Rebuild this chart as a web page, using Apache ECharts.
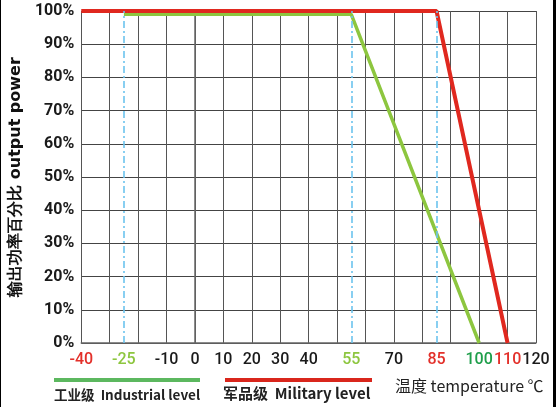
<!DOCTYPE html>
<html>
<head>
<meta charset="utf-8">
<script src="https://cdn.jsdelivr.net/npm/echarts@6/dist/echarts.min.js"></script>
<style>
  html, body { margin: 0; padding: 0; background: #fff; }
  #chart { width: 560px; height: 407px; }
</style>
</head>
<body>
<div id="chart"></div>
<script>
// x tick labels that are shown under the axis
var xLabels = [-40, -25, -10, 0, 10, 20, 30, 40, 55, 70, 85, 100, 110, 120]
// label colour keys, the rest are black
var redLabels = [-40, 85, 110]
var greenLabels = [-25, 55]
var darkGreenLabels = [100]

// derating curves: [temperature, output %]
var industrialData = [[-25, 99], [55, 99], [100, 0]]
var militaryData = [[-40, 100], [85, 100], [110, 0]]

// dashed guides
var guideX = [-25, 55, 85]

var chart = echarts.init(document.getElementById('chart'))

function labelFmt(v) {
  if (redLabels.indexOf(v) > -1) return '{r|' + v + '}'
  if (greenLabels.indexOf(v) > -1) return '{g|' + v + '}'
  if (darkGreenLabels.indexOf(v) > -1) return '{dg|' + v + '}'
  return '{k|' + v + '}'
}

var lblStyle = { fontSize: 16, fontFamily: 'Roboto', fontWeight: 500 }

chart.setOption({
  animation: false,
  grid: { left: 79, right: 24, top: 11, bottom: 64 },
  xAxis: {
    type: 'value',
    min: -40,
    max: 120,
    interval: 10,
    axisLine: { lineStyle: { color: '#666', width: 1.5 } },
    axisTick: { show: false },
    splitLine: { show: true, lineStyle: { color: '#555', width: 1 } },
    axisLabel: {
      customValues: xLabels,
      margin: 9,
      formatter: labelFmt,
      rich: {
        r: Object.assign({ color: '#e3302a' }, lblStyle),
        g: Object.assign({ color: '#8dc63f' }, lblStyle),
        dg: Object.assign({ color: '#1e9e4a' }, lblStyle),
        k: Object.assign({ color: '#1a1a1a' }, lblStyle)
      }
    }
  },
  yAxis: {
    type: 'value',
    min: 0,
    max: 100,
    interval: 10,
    name: '输出功率百分比 output power',
    nameLocation: 'middle',
    nameGap: 50,
    nameTextStyle: { fontSize: 16, fontWeight: 'bold', color: '#111', fontFamily: 'DejaVu Sans' },
    axisLine: { show: true, lineStyle: { color: '#666', width: 1.5 } },
    axisTick: { show: false },
    splitLine: { lineStyle: { color: '#444', width: 1 } },
    axisLabel: {
      formatter: '{value}%',
      fontSize: 16,
      fontWeight: 'bold',
      color: '#1a1a1a',
      fontFamily: 'Roboto',
      margin: 7
    }
  },
  series: [
    {
      type: 'line',
      data: [],
      z: 1,
      markLine: {
        symbol: 'none',
        silent: true,
        label: { show: false },
        lineStyle: { color: '#6cc4ee', width: 1.6, type: [7, 3, 2, 3] },
        data: guideX.map(function (x) {
          return [{ coord: [x, 0] }, { coord: [x, 100] }]
        })
      }
    },
    {
      name: '工业级 Industrial level',
      type: 'line',
      data: industrialData,
      symbol: 'none',
      z: 3,
      lineStyle: { color: '#8dc63f', width: 3.5 }
    },
    {
      name: '军品级 Military level',
      type: 'line',
      data: militaryData,
      symbol: 'none',
      z: 4,
      lineStyle: { color: '#e0281f', width: 4 }
    }
  ],
  graphic: [
    { type: 'rect', shape: { x: 54, y: 378, width: 146, height: 4 }, style: { fill: '#5cb85f' } },
    { type: 'text', left: 54, top: 388, style: { text: '工业级  Industrial level', fontSize: 13.5, fontWeight: 'bold', fill: '#222', fontFamily: 'Noto Sans CJK SC' } },
    { type: 'rect', shape: { x: 225, y: 378, width: 147, height: 4 }, style: { fill: '#d9261c' } },
    { type: 'text', left: 223, top: 386, style: { text: '军品级  Military level', fontSize: 15, fontWeight: 'bold', fill: '#222', fontFamily: 'Noto Sans CJK SC' } },
    { type: 'text', left: 395, top: 378, style: { text: '温度 temperature ℃', fontSize: 16, fill: '#222', fontFamily: 'Noto Sans CJK SC' } },
    { type: 'rect', shape: { x: 553, y: 0, width: 3, height: 407 }, style: { fill: '#000' } },
    { type: 'rect', shape: { x: 0, y: 0, width: 1, height: 407 }, style: { fill: '#000' } }
  ]
})
</script>
</body>
</html>
